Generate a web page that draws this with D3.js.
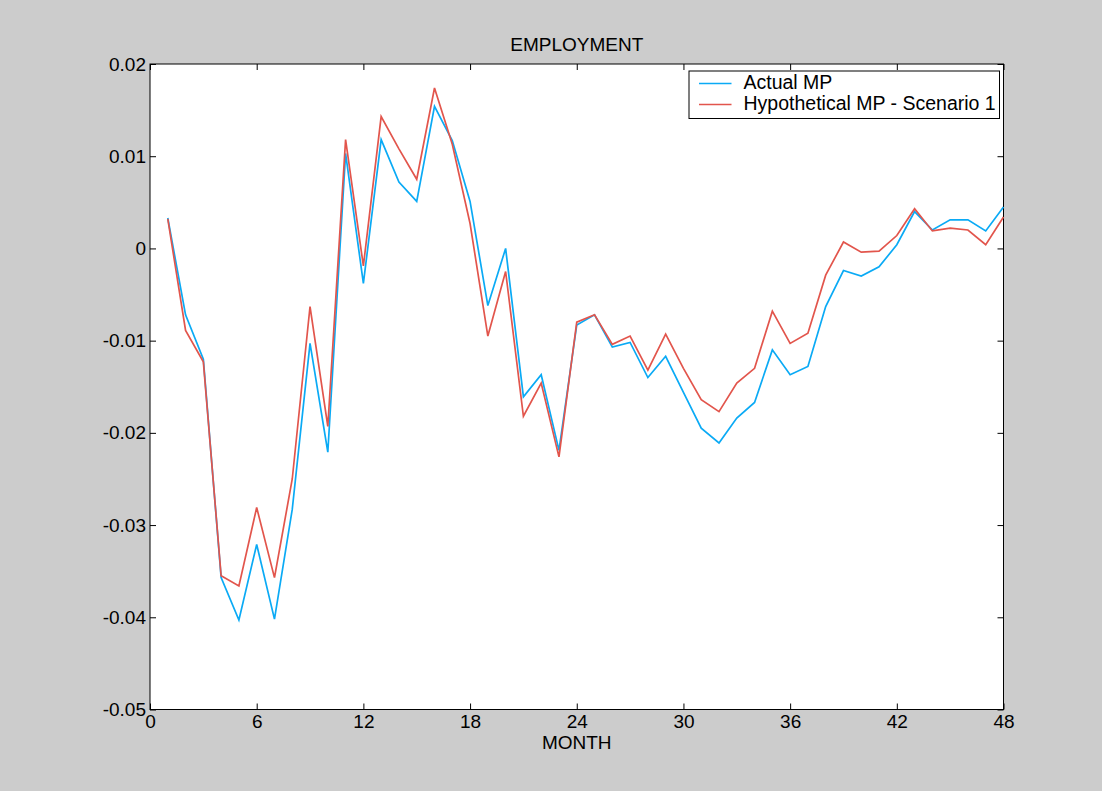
<!DOCTYPE html>
<html>
<head>
<meta charset="utf-8">
<script src="https://cdn.jsdelivr.net/npm/d3@7"></script>
<style>
  html, body { margin: 0; padding: 0; background: #cccccc; }
  svg { display: block; font-family: "Liberation Sans", Arial, sans-serif; }
</style>
</head>
<body>
<svg id="chart" width="1102" height="791"></svg>
<script>
// Employment response by month, two monetary-policy paths
const months = d3.range(1, 49);
const actualMP = [
  0.0033, -0.0072, -0.0120, -0.0357, -0.0403, -0.0321, -0.0402, -0.0283,
  -0.0103, -0.0221, 0.0103, -0.0038, 0.0118, 0.0072, 0.0051, 0.0154,
  0.0117, 0.0051, -0.0062, 0.0000, -0.0161, -0.0137, -0.0219, -0.0083,
  -0.0072, -0.0107, -0.0102, -0.0140, -0.0117, -0.0156, -0.0195, -0.0211,
  -0.0184, -0.0167, -0.0110, -0.0137, -0.0128, -0.0063, -0.0024, -0.0030,
  -0.0020, 0.0004, 0.0040, 0.0020, 0.0031, 0.0031, 0.0019, 0.0045
];
const hypotheticalMP = [
  0.0032, -0.0089, -0.0123, -0.0355, -0.0366, -0.0281, -0.0357, -0.0250,
  -0.0063, -0.0193, 0.0118, -0.0019, 0.0143, 0.0108, 0.0075, 0.0174,
  0.0113, 0.0027, -0.0095, -0.0025, -0.0182, -0.0146, -0.0226, -0.0080,
  -0.0072, -0.0104, -0.0095, -0.0132, -0.0093, -0.0130, -0.0164, -0.0177,
  -0.0146, -0.0130, -0.0068, -0.0103, -0.0092, -0.0029, 0.0007, -0.0004,
  -0.0003, 0.0014, 0.0043, 0.0019, 0.0022, 0.0020, 0.0004, 0.0034
];
const xTicks = [0, 6, 12, 18, 24, 30, 36, 42, 48];
const yTicks = [0.02, 0.01, 0, -0.01, -0.02, -0.03, -0.04, -0.05];
const yTickLabels = ["0.02", "0.01", "0", "-0.01", "-0.02", "-0.03", "-0.04", "-0.05"];
const seriesNames = ["Actual MP", "Hypothetical MP - Scenario 1"];
const seriesColors = ["#0aaaf5", "#e2554c"];
const titleText = "EMPLOYMENT";
const xLabel = "MONTH";

const svg = d3.select("#chart");
const plot = { left: 150, top: 64, right: 1003.5, bottom: 709.5 };

const x = d3.scaleLinear().domain([0, 48]).range([plot.left, plot.right]);
const y = d3.scaleLinear().domain([-0.05, 0.02]).range([plot.bottom, plot.top]);

// figure background
svg.append("rect").attr("width", 1102).attr("height", 791).attr("fill", "#cccccc");
// plot area
svg.append("rect")
  .attr("x", plot.left).attr("y", plot.top)
  .attr("width", plot.right - plot.left).attr("height", plot.bottom - plot.top)
  .attr("fill", "#ffffff");

const fmtY = (d, i) => yTickLabels[i];

// axes with inward ticks on all four sides
const axisStyle = g => {
  g.selectAll(".domain").remove();
  g.selectAll("line").attr("stroke", "#000").attr("stroke-width", 1);
  g.selectAll("text").attr("fill", "#000").attr("font-size", 19);
};
svg.append("g").attr("transform", `translate(0,${plot.bottom})`)
  .call(d3.axisBottom(x).tickValues(xTicks).tickSizeInner(-6).tickSizeOuter(0).tickPadding(5).tickFormat(d3.format("d")))
  .call(axisStyle);
svg.append("g").attr("transform", `translate(0,${plot.top})`)
  .call(d3.axisTop(x).tickValues(xTicks).tickSizeInner(-6).tickSizeOuter(0).tickFormat(""))
  .call(axisStyle);
svg.append("g").attr("transform", `translate(${plot.left},0)`)
  .call(d3.axisLeft(y).tickValues(yTicks).tickSizeInner(-6).tickSizeOuter(0).tickPadding(4).tickFormat(fmtY))
  .call(axisStyle);
svg.append("g").attr("transform", `translate(${plot.right},0)`)
  .call(d3.axisRight(y).tickValues(yTicks).tickSizeInner(-6).tickSizeOuter(0).tickFormat(""))
  .call(axisStyle);

// frame
svg.append("rect")
  .attr("x", plot.left).attr("y", plot.top)
  .attr("width", plot.right - plot.left).attr("height", plot.bottom - plot.top)
  .attr("fill", "none").attr("stroke", "#000").attr("stroke-width", 1);

// series lines
const line = d3.line().x((d, i) => x(months[i])).y(d => y(d));
[actualMP, hypotheticalMP].forEach((vals, k) => {
  svg.append("path")
    .datum(vals)
    .attr("d", line)
    .attr("fill", "none")
    .attr("stroke", seriesColors[k])
    .attr("stroke-width", 1.7)
    .attr("stroke-linejoin", "miter");
});

// title and axis label
svg.append("text").attr("x", (plot.left + plot.right) / 2).attr("y", 51)
  .attr("text-anchor", "middle").attr("font-size", 19).attr("fill", "#000").text(titleText);
svg.append("text").attr("x", (plot.left + plot.right) / 2).attr("y", 749)
  .attr("text-anchor", "middle").attr("font-size", 19).attr("fill", "#000").text(xLabel);

// legend
const legend = svg.append("g").attr("transform", "translate(689,71)");
legend.append("rect").attr("width", 310.5).attr("height", 47.5)
  .attr("fill", "#fff").attr("stroke", "#000").attr("stroke-width", 1);
seriesNames.forEach((name, i) => {
  const ly = 12.5 + i * 21;
  legend.append("line").attr("x1", 10).attr("x2", 42.5).attr("y1", ly).attr("y2", ly)
    .attr("stroke", seriesColors[i]).attr("stroke-width", 1.7);
  legend.append("text").attr("x", 54.5).attr("y", ly + 5.5)
    .attr("font-size", 19.5).attr("fill", "#000").text(name);
});
</script>
</body>
</html>
